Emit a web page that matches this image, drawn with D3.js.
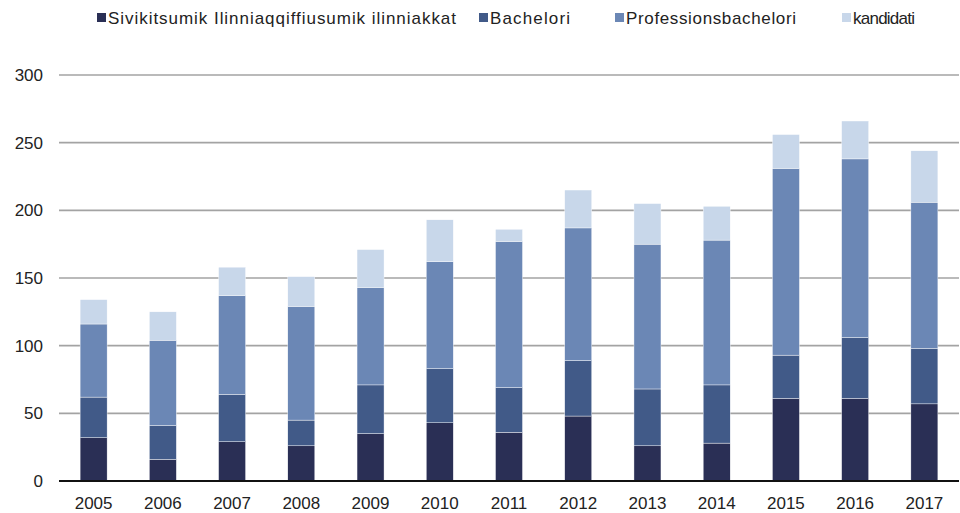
<!DOCTYPE html>
<html>
<head>
<meta charset="utf-8">
<script src="https://cdn.jsdelivr.net/npm/d3@7"></script>
<style>
  body { margin: 0; background: #fff; }
  text { font-family: "Liberation Sans", Arial, sans-serif; fill: #222; }
</style>
</head>
<body>
<div id="chart"></div>
<script>
const width = 960;
const height = 513;

const years = ["2005", "2006", "2007", "2008", "2009", "2010", "2011", "2012", "2013", "2014", "2015", "2016", "2017"];
const seriesNames = ["Sivikitsumik Ilinniaqqiffiusumik ilinniakkat", "Bachelori", "Professionsbachelori", "kandidati"];
const sivikitsumik = [32, 16, 29, 26, 35, 43, 36, 48, 26, 28, 61, 61, 57];
const bachelori = [30, 25, 35, 19, 36, 40, 33, 41, 42, 43, 32, 45, 41];
const professionsbachelori = [54, 63, 73, 84, 72, 79, 108, 98, 107, 107, 138, 132, 108];
const kandidati = [18, 21, 21, 22, 28, 31, 9, 28, 30, 25, 25, 28, 38];
const yTicks = [0, 50, 100, 150, 200, 250, 300];
const colors = ["#2a2f55", "#415a88", "#6b87b5", "#c8d7ea"];

const rows = years.map((y, i) => ({
    year: y,
    s0: sivikitsumik[i],
    s1: bachelori[i],
    s2: professionsbachelori[i],
    s3: kandidati[i]
}));
const keys = ["s0", "s1", "s2", "s3"];

const svg = d3.select("#chart")
    .append("svg")
    .attr("width", width)
    .attr("height", height);

const x = d3.scaleBand()
    .domain(years)
    .range([59, 959])
    .paddingInner(0.61)
    .paddingOuter(0.305);

const y = d3.scaleLinear()
    .domain([0, 300])
    .range([481, 75]);

// gridlines
svg.append("g")
    .selectAll("line")
    .data(yTicks.filter(d => d > 0))
    .join("line")
    .attr("x1", 59)
    .attr("x2", 959)
    .attr("y1", d => y(d))
    .attr("y2", d => y(d))
    .attr("stroke", "#a3a3a3")
    .attr("stroke-width", 1.6);

// y labels
svg.append("g")
    .selectAll("text")
    .data(yTicks)
    .join("text")
    .attr("x", 43)
    .attr("y", d => y(d))
    .attr("dy", "0.35em")
    .attr("text-anchor", "end")
    .attr("font-size", 17)
    .text(d => d);

const stacked = d3.stack().keys(keys)(rows);

svg.append("g")
    .selectAll("g")
    .data(stacked)
    .join("g")
    .attr("fill", (d, i) => colors[i])
    .selectAll("rect")
    .data(d => d)
    .join("rect")
    .attr("x", d => x(d.data.year))
    .attr("width", x.bandwidth())
    .attr("y", d => y(d[1]))
    .attr("height", d => y(d[0]) - y(d[1]))
    .attr("stroke", "#fff")
    .attr("stroke-width", 0.4);

// baseline
svg.append("line")
    .attr("x1", 59)
    .attr("x2", 959)
    .attr("y1", y(0))
    .attr("y2", y(0))
    .attr("stroke", "#111")
    .attr("stroke-width", 2);

// x labels
svg.append("g")
    .selectAll("text")
    .data(years)
    .join("text")
    .attr("x", d => x(d) + x.bandwidth() / 2)
    .attr("y", 509)
    .attr("text-anchor", "middle")
    .attr("font-size", 17)
    .text(d => d);

// legend
const legendX = [97, 479, 615, 842];
const legendW = [348, 80, 170, 62];
const legend = svg.append("g")
    .selectAll("g")
    .data(seriesNames)
    .join("g")
    .attr("transform", (d, i) => `translate(${legendX[i]},0)`);

legend.append("rect")
    .attr("x", 0)
    .attr("y", 13)
    .attr("width", 9)
    .attr("height", 9)
    .attr("fill", (d, i) => colors[i]);

legend.append("text")
    .attr("x", 11)
    .attr("y", 24)
    .attr("font-size", 17)
    .attr("textLength", (d, i) => legendW[i])
    .attr("lengthAdjust", "spacing")
    .text(d => d);
</script>
</body>
</html>
